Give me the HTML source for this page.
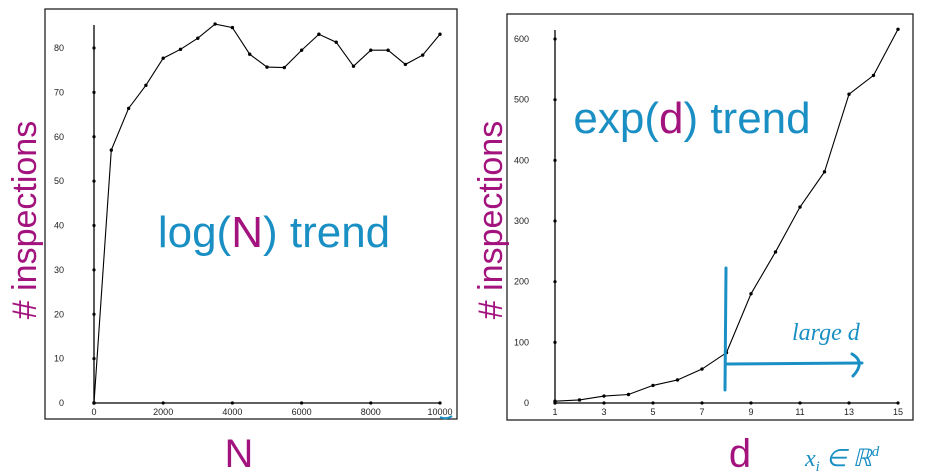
<!DOCTYPE html>
<html><head><meta charset="utf-8"><style>
body{margin:0;background:#fff;width:929px;height:473px;overflow:hidden;font-family:"Liberation Sans",sans-serif}
svg{display:block}
</style></head><body>
<svg width="929" height="473">
<g id="left"></g>
<g id="right"></g>
</svg>
<script>
const nValues=[0,500,1000,1500,2000,2500,3000,3500,4000,4500,5000,5500,6000,6500,7000,7500,8000,8500,9000,9500,10000];
const nInspections=[0,57,66.4,71.6,77.7,79.7,82.2,85.4,84.6,78.6,75.7,75.6,79.5,83.1,81.3,75.9,79.5,79.5,76.3,78.4,83.1];
const nYTicks=[0,10,20,30,40,50,60,70,80];
const nXTicks=[0,2000,4000,6000,8000,10000];
const dValues=[1,2,3,4,5,6,7,8,9,10,11,12,13,14,15];
const dInspections=[3,5,11.5,14,29,38,56,83,180,249,323,381,509,540,616];
const dYTicks=[0,100,200,300,400,500,600];
const dXTicks=[1,3,5,7,9,11,13,15];
const NS='http://www.w3.org/2000/svg';
function mk(p,t,a){const e=document.createElementNS(NS,t);for(const k in a)e.setAttribute(k,a[k]);p.appendChild(e);return e;}
function chart(g,cfg){
  const fr=mk(g,'rect',{x:cfg.fx,y:cfg.fy,width:cfg.fw,height:cfg.fh,fill:'none',stroke:'#222','stroke-width':1.3});
  
  
  const sx=v=>cfg.x0+(v-cfg.xmin)/(cfg.xmax-cfg.xmin)*(cfg.x1-cfg.x0);
  const sy=v=>cfg.y0-(v-cfg.ymin)/(cfg.ymax-cfg.ymin)*(cfg.y0-cfg.y1);
  const ya=mk(g,'line',{x1:cfg.x0,y1:cfg.y0,x2:cfg.x0,y2:cfg.ytop,stroke:'#000','stroke-width':1.3});
  
  
  const xa=mk(g,'line',{x1:cfg.x0,y1:cfg.y0,x2:cfg.x1,y2:cfg.y0,stroke:'#000','stroke-width':1.3});
  
  
  cfg.yt.forEach(v=>{
    mk(g,'circle',{cx:cfg.x0,cy:sy(v),r:1.6,fill:'#000'});
    const t=mk(g,'text',{x:cfg.ylx,y:sy(v)+3,'font-size':9,'text-anchor':'end',fill:'#222'});
    t.textContent=v;
    
    
  });
  cfg.xt.forEach(v=>{
    mk(g,'circle',{cx:sx(v),cy:cfg.y0,r:1.6,fill:'#000'});
    const t=mk(g,'text',{x:sx(v),y:cfg.y0+12,'font-size':9,'text-anchor':'middle',fill:'#222'});
    t.textContent=v;
    
    
  });
  const pts=cfg.xs.map((x,i)=>sx(x)+','+sy(cfg.ys[i])).join(' ');
  const pl=mk(g,'polyline',{points:pts,fill:'none',stroke:'#000','stroke-width':1.1});
  
  
  cfg.xs.forEach((x,i)=>{
    const c=mk(g,'circle',{cx:sx(x),cy:sy(cfg.ys[i]),r:1.7,fill:'#000'});
    
    
  });
}
chart(document.getElementById('left'),{fx:45,fy:9,fw:412,fh:410,x0:94,x1:440,xmin:0,xmax:10000,y0:403,y1:48,ymin:0,ymax:80,ytop:25,ylx:64,yt:nYTicks,xt:nXTicks,xs:nValues,ys:nInspections});
chart(document.getElementById('right'),{fx:507,fy:14,fw:406,fh:406,x0:555,x1:898,xmin:1,xmax:15,y0:403,y1:39,ymin:0,ymax:600,ytop:30,ylx:529,yt:dYTicks,xt:dXTicks,xs:dValues,ys:dInspections});
</script>
<svg width="929" height="473" style="position:absolute;left:0;top:0">
<text transform="translate(36,220) rotate(-90)" text-anchor="middle" font-size="34" font-weight="300" fill="#a3137d">#  inspections</text>
<text transform="translate(502,220) rotate(-90)" text-anchor="middle" font-size="34" font-weight="300" fill="#a3137d">#  inspections</text>
<text x="239" y="467" text-anchor="middle" font-size="40" fill="#a3137d">N</text>
<text x="740" y="467" text-anchor="middle" font-size="40" fill="#a3137d">d</text>
<text x="274" y="247" text-anchor="middle" font-size="44" fill="#1a8fc4">log(<tspan fill="#a3137d">N</tspan>) trend</text>
<text x="692" y="133" text-anchor="middle" font-size="44" fill="#1a8fc4">exp(<tspan fill="#a3137d">d</tspan>) trend</text>
<g stroke="#1a8fc4" stroke-width="3" fill="none" stroke-linecap="round">
<line x1="726" y1="268" x2="725" y2="390"/>
<path d="M727 364 L862 363"/>
<path d="M852 354 Q866 362 853 376"/>
</g>
<text x="792" y="340" font-size="24" fill="#1a8fc4" font-style="italic" font-family="'Liberation Serif',serif">large d</text>
<text x="805" y="466" font-size="24" fill="#1a8fc4" font-style="italic" font-family="'Liberation Serif',serif">x<tspan font-size="15" dy="5">i</tspan><tspan dy="-5"> ∈ ℝ</tspan><tspan font-size="15" dy="-10">d</tspan></text>
<path d="M440 417 Q446 420 452 416" stroke="#1a8fc4" stroke-width="2" fill="none"/>
</svg>
</body></html>
